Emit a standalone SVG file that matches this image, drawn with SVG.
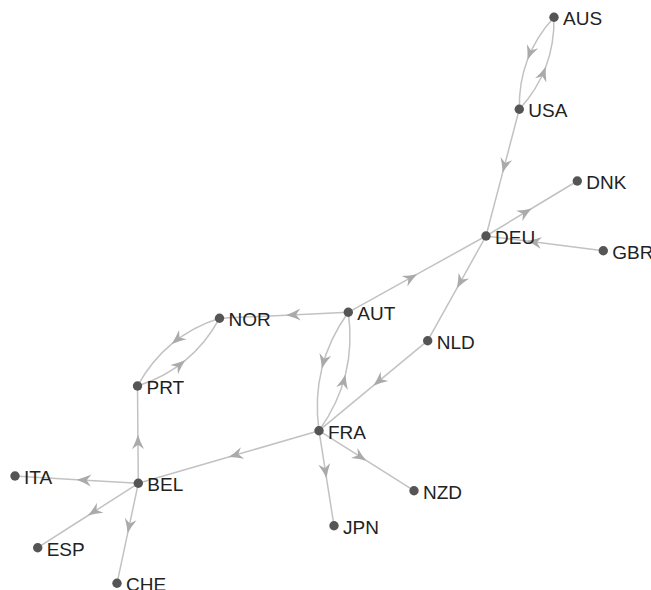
<svg xmlns="http://www.w3.org/2000/svg" width="651" height="590" viewBox="0 0 651 590">
<style>
.e{fill:none;stroke:#c2c2c2;stroke-width:1.5;marker-mid:url(#ah)}
.n circle{fill:#555}
.n text{font-family:"Liberation Sans",Arial,sans-serif;font-size:19px;fill:#222}
</style>
<defs>
<marker id="ah" markerUnits="userSpaceOnUse" viewBox="-15 -7 16 14" refX="0" refY="0" markerWidth="16" markerHeight="14" orient="auto" overflow="visible">
<path d="M0,0 Q-7,-2.2 -14.5,-6 L-10,0 L-14.5,6 Q-7,2.2 0,0 Z" fill="#aaa"/>
</marker>
</defs>
<g id="edges">
<path class="e" d="M554,17.3 Q536.1,36.8 527.45,59.83 Q518.8,82.8 519.3,109.3"/>
<path class="e" d="M519.3,109.3 Q537.2,89.8 545.85,66.77 Q554.5,43.8 554,17.3"/>
<path class="e" d="M519.3,109.3 L502.65,172.65 L486,236"/>
<path class="e" d="M486,236 L531.65,208.5 L577.3,181"/>
<path class="e" d="M603.3,250.7 L527,241.1 L486,236"/>
<path class="e" d="M348.3,312.3 L417.15,274.15 L486,236"/>
<path class="e" d="M486,236 L456.85,288.35 L427.7,340.7"/>
<path class="e" d="M427.7,340.7 L373.35,385.7 L319,430.7"/>
<path class="e" d="M348.3,312.3 L286,315.2 L219.5,318.3"/>
<path class="e" d="M348.3,312.3 Q329.1,339 321.81,368.57 Q314.5,398.2 319,430.7"/>
<path class="e" d="M319,430.7 Q338.2,404 345.49,374.43 Q352.8,344.8 348.3,312.3"/>
<path class="e" d="M219.5,318.3 Q192.2,327 171.73,343.95 Q151.2,360.9 137.5,386"/>
<path class="e" d="M137.5,386 Q164.8,377.3 185.27,360.35 Q205.8,343.4 219.5,318.3"/>
<path class="e" d="M138.3,483.3 L137.9,434.65 L137.5,386"/>
<path class="e" d="M319,430.7 L228.65,457 L138.3,483.3"/>
<path class="e" d="M138.3,483.3 L76.65,479.65 L15,476"/>
<path class="e" d="M138.3,483.3 L88,515.5 L37.7,547.7"/>
<path class="e" d="M138.3,483.3 L127.65,533.3 L117,583.3"/>
<path class="e" d="M319,430.7 L366.5,460.7 L414,490.7"/>
<path class="e" d="M319,430.7 L326.5,478.2 L334,525.7"/>
</g>
<g id="AUS" class="n"><circle cx="554" cy="17.3" r="4.7"/><text x="563" y="25.3">AUS</text></g>
<g id="USA" class="n"><circle cx="519.3" cy="109.3" r="4.7"/><text x="528.3" y="117.3">USA</text></g>
<g id="DNK" class="n"><circle cx="577.3" cy="181" r="4.7"/><text x="586.3" y="189">DNK</text></g>
<g id="DEU" class="n"><circle cx="486" cy="236" r="4.7"/><text x="495" y="244">DEU</text></g>
<g id="GBR" class="n"><circle cx="603.3" cy="250.7" r="4.7"/><text x="612.3" y="258.7">GBR</text></g>
<g id="NOR" class="n"><circle cx="219.5" cy="318.3" r="4.7"/><text x="228.5" y="326.3">NOR</text></g>
<g id="AUT" class="n"><circle cx="348.3" cy="312.3" r="4.7"/><text x="357.3" y="320.3">AUT</text></g>
<g id="NLD" class="n"><circle cx="427.7" cy="340.7" r="4.7"/><text x="436.7" y="348.7">NLD</text></g>
<g id="PRT" class="n"><circle cx="137.5" cy="386" r="4.7"/><text x="146.5" y="394">PRT</text></g>
<g id="FRA" class="n"><circle cx="319" cy="430.7" r="4.7"/><text x="328" y="438.7">FRA</text></g>
<g id="ITA" class="n"><circle cx="15" cy="476" r="4.7"/><text x="24" y="484">ITA</text></g>
<g id="BEL" class="n"><circle cx="138.3" cy="483.3" r="4.7"/><text x="147.3" y="491.3">BEL</text></g>
<g id="NZD" class="n"><circle cx="414" cy="490.7" r="4.7"/><text x="423" y="498.7">NZD</text></g>
<g id="JPN" class="n"><circle cx="334" cy="525.7" r="4.7"/><text x="343" y="533.7">JPN</text></g>
<g id="ESP" class="n"><circle cx="37.7" cy="547.7" r="4.7"/><text x="46.7" y="555.7">ESP</text></g>
<g id="CHE" class="n"><circle cx="117" cy="583.3" r="4.7"/><text x="126" y="591.3">CHE</text></g>
</svg>
